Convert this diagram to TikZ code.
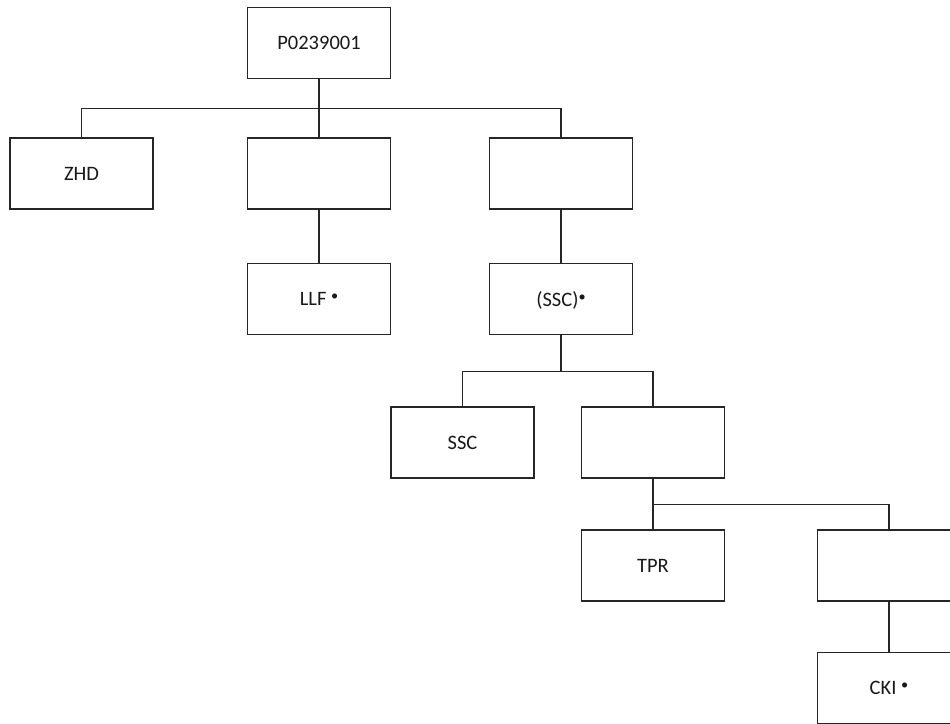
\documentclass[tikz,border=0pt]{standalone}
\usepackage{fontspec}
\setmainfont{Carlito}
\usepackage{graphicx}
\newcommand{\refdot}{\raisebox{5pt}{\scalebox{0.7}{•}}}
\begin{document}
\begin{tikzpicture}[x=1pt,y=-1pt,
  box/.style={draw=black!85,line width=1.6pt,minimum width=143pt,minimum height=71pt,inner sep=0pt,
    font=\fontsize{20.5}{24}\selectfont,text=black!90,text depth=0pt,yshift=-0pt},
  link/.style={draw=black!85,line width=1.6pt}]
\useasboundingbox (0,0) rectangle (950,723);
\fill[white] (0,0) rectangle (950,723);
\clip (0,0) rectangle (950,723);
\node[box] (P) at (319,43) {P0239001};
\node[box] (ZHD) at (81.5,173.5) {ZHD};
\node[box] (E1) at (319,173.5) {};
\node[box] (E2) at (561,173.5) {};
\node[box] (LLF) at (319,299) {LLF \refdot};
\node[box] (SSCs) at (561,299) {(SSC)\refdot};
\node[box] (SSC) at (462.5,442.5) {SSC};
\node[box] (E3) at (653,442.5) {};
\node[box] (TPR) at (653,565.5) {TPR};
\node[box] (E4) at (889,565.5) {};
\node[box] (CKI) at (889,688) {CKI \refdot};
\coordinate (b1) at (319,108.5);
\coordinate (b2) at (561,371.5);
\coordinate (b3) at (653,504.5);
\draw[link] (P.south) -- (b1);
\draw[link] (ZHD.north) |- (b1) -| (E2.north);
\draw[link] (b1) -- (E1.north);
\draw[link] (E1.south) -- (LLF.north);
\draw[link] (E2.south) -- (SSCs.north);
\draw[link] (SSCs.south) -- (b2);
\draw[link] (SSC.north) |- (b2) -| (E3.north);
\draw[link] (E3.south) -- (TPR.north);
\draw[link] (b3) -| (E4.north);
\draw[link] (E4.south) -- (CKI.north);
\end{tikzpicture}
\end{document}
